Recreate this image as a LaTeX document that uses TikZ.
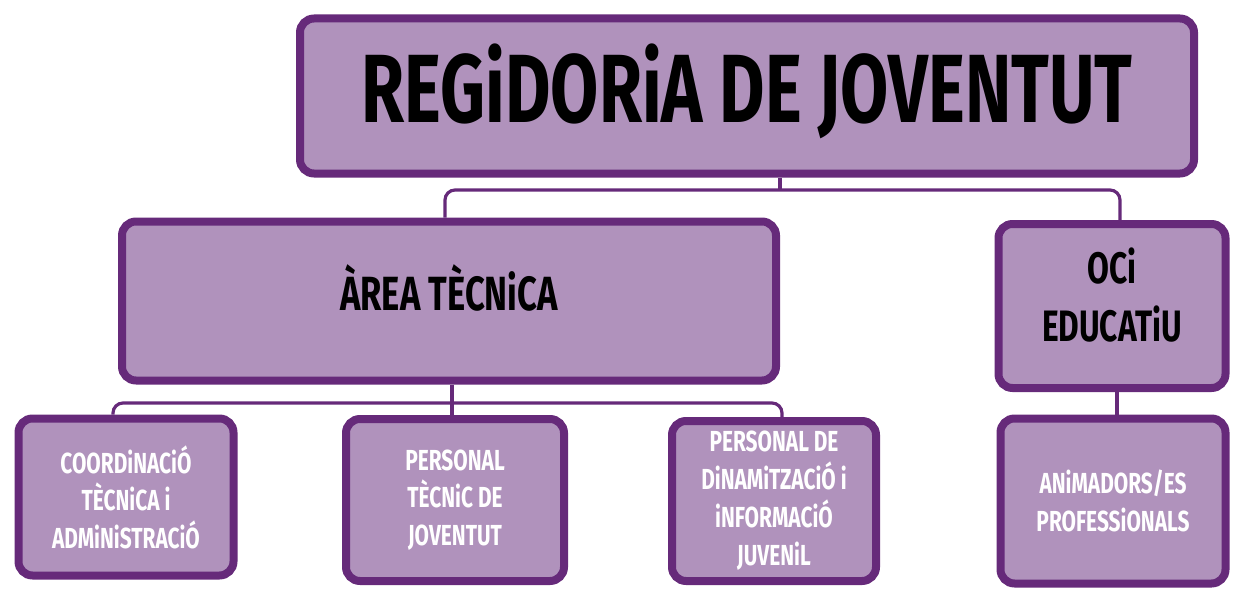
\documentclass[tikz,border=0pt]{standalone}
\usepackage{fontspec}
\newfontfamily\handfont[FakeStretch=0.72]{Fira Sans}
\usetikzlibrary{positioning}
\definecolor{boxfill}{RGB}{176,146,188}
\definecolor{boxline}{RGB}{102,42,122}

\begin{document}
\begin{tikzpicture}[x=1pt, y=-1pt,
                orgbox/.style={draw=boxline, fill=boxfill, line width=8pt, rounded corners=14pt, inner sep=0pt, align=center},
                link/.style={draw=boxline, line width=3.2pt, rounded corners=10pt}]
                \useasboundingbox (0,0) rectangle (1235,594);

                % Top
                \node[orgbox, minimum width=894pt, minimum height=155pt, text depth=26pt,
                      font=\handfont\bfseries\fontsize{97}{100}\selectfont] (regidoria) at (747,96) {REGiDORiA DE JOVENTUT};

                % Level 1
                \node[orgbox, minimum width=654pt, minimum height=159pt, text depth=26pt,
                      font=\handfont\bfseries\fontsize{48}{58}\selectfont] (area) at (449,301) {ÀREA TÈCNiCA};
                \node[orgbox, minimum width=227pt, minimum height=164pt, text depth=23pt,
                      font=\handfont\bfseries\fontsize{44}{58}\selectfont] (oci) at (1112,306) {OCi\\EDUCATiU};

                % Level 2
                \node[orgbox, text=white, minimum width=215pt, minimum height=157pt,
                      font=\handfont\bfseries\fontsize{29}{37.5}\selectfont] (coord) at (126,497) {COORDiNACiÓ\\TÈCNiCA i\\ADMiNiSTRACiÓ};
                \node[orgbox, text=white, minimum width=218pt, minimum height=162pt,
                      font=\handfont\bfseries\fontsize{29}{37.5}\selectfont] (tecnic) at (455,500) {PERSONAL\\TÈCNiC DE\\JOVENTUT};
                \node[orgbox, text=white, minimum width=204pt, minimum height=160pt,
                      font=\handfont\bfseries\fontsize{29}{38}\selectfont] (dinam) at (774,501) {PERSONAL DE\\DiNAMiTZACiÓ i\\iNFORMACiÓ\\JUVENiL};
                \node[orgbox, text=white, minimum width=225pt, minimum height=165pt,
                      font=\handfont\bfseries\fontsize{29}{37.5}\selectfont] (anim) at (1113,501) {ANiMADORS/ES\\PROFESSiONALS};

                % Edges
                \coordinate (topjoin) at (780,190);
                \draw[link] (topjoin |- regidoria.south) -- (topjoin);
                \draw[link] ([xshift=-4pt]area.north) |- (topjoin) -| ([xshift=8pt]oci.north);
                \coordinate (areajoin) at (452,403);
                \draw[link] (areajoin |- area.south) -- (areajoin |- tecnic.north);
                \draw[link] ([xshift=-13pt]coord.north) |- (areajoin) -| ([xshift=8pt]dinam.north);
                \draw[link] ([xshift=5pt]oci.south) -- ([xshift=5pt]oci.south |- anim.north);
\end{tikzpicture}
\end{document}
